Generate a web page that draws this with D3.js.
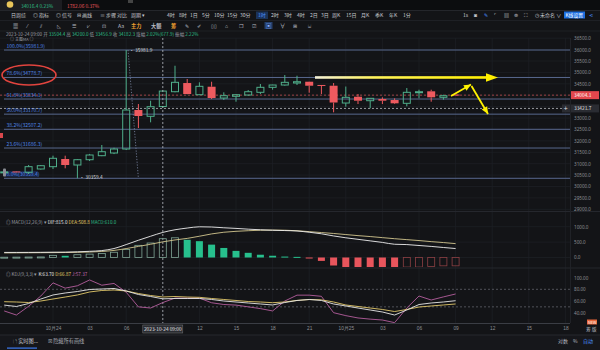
<!DOCTYPE html>
<html><head><meta charset="utf-8">
<script src="https://cdn.jsdelivr.net/npm/d3@7/dist/d3.min.js"></script>
<style>html,body{margin:0;padding:0;background:#131417;}svg{display:block;font-family:"Noto Sans CJK SC","Noto Sans",sans-serif;}</style>
</head><body><svg id="chart" width="600" height="350"></svg>
<script>
// ---------------- data ----------------
const hours = [-4,-3,-2,-1,0,1,2,3,4,5,6,7,8,9,10,11,12,13,14,15,16,17,18,19,20,21,22,23,24,25,26,27,28,29,30,31,32,33];
const open  = [30620,30660,30622,30767,30868,31205,30942,31174,31350,31468,31643,33352,33076,33504.4,34154,34535,34023,34373,33878,33953,34010,34128,34347,34448,34535,34592,34450,34417,33659,33935,33760,33834,33790,33646,34128,34172,33909,34030];
const high  = [30660,30670,30942,30940,31350,31350,31200,31425,31818,31700,35981.9,33615,33760,34200.0,35293,34711,34566,34592,34128,34053,34229,34492,34460,34886,34855,34600,34450,34535,34382,34053,33865,33909,33865,34316,34242,34242,34023,34040];
const low   = [30600,30630,30548,30740,30767,30797,30359.4,31117,31330,31420,31600,32563,32813,33456.9,34130,34040,34010,33834,33790,33716,33980,34053,34242,34420,34448,34110,34053,33251,33497,33615,33427,33615,33615,33514,33865,33716,33804,34000];
const close = [30640,30640,30868,30911,31236,30942,31174,31380,31525,31643,33352,33089,33497,34182.3,34566,34053,34391,33878,33979,34023,34154,34347,34448,34566,34592,34417,34430,33681,33909,33760,33865,33760,33646,34128,34154,33909,33979,34004.1];
const macdHist = [10,12,15,18,70,55,90,110,130,170,260,395,470,610,640,575,530,418,310,215,152,90,57,30,20,-10,-110,-260,-310,-364,-375,-395,-427,-310,-310,-290,-270,-270];
const dif = [165,165,166,168,172,175,185,200,225,291,420,560,690,815,900,956,997,990,965,945,920,900,885,875,860,820,770,700,640,590,540,490,430,420,390,360,325,291];
const dea = [150,152,154,156,158,162,168,178,195,230,290,360,430,508.8,570,620,690,766,820,850,870,885,890,885,870,840,810,780,745,710,680,645,610,580,550,515,485,450];
const kLine = [53,50.6,55.7,63.4,70.3,73.7,76.2,79.7,80.5,81.4,77.1,71.1,67.7,63.70,64.3,64.3,64.3,62.6,60,58.3,56.6,54.9,53.2,57.4,60.9,62.6,60.9,54.9,51.5,48,44.6,41.2,36,44.6,54,56.6,58.3,60.5];
const dLine = [58.8,58.3,57.4,60,63.4,66.8,70.3,75.4,78,78.8,77.1,72.8,69.4,66.87,67.7,66.8,66.3,64.3,62.6,60.9,59.1,58.3,57.1,58.3,61,62.5,62,58.3,53.2,50.6,48,45.5,42,45.5,49.7,51.5,53.2,54.9];
const jLine = [43,36,51,68.5,91,82,86,96,87,90,75,50,48,57.37,65,65,65,57,54,53,50,47,43,60,70,70,68,40,35,31,29,27.5,23,48,68.5,61.7,67,72];
const priceTicks = [36500,36000,35500,35000,34500,34000,33500,33000,32500,32000,31500,31000,30500,30000,29500,29000];
const macdTicks = [1000,500,0];
const kdjTicks = [100,80,60,40];
const kdjDashed = [80,50];
const xTickHours = [0,3,6,9,12,15,18,21,24,27,30,33,36,39,42];
const xTickLabels = ["10月24","03","06","09","12","15","18","21","10月25","03","06","09","12","15","18"];
const fibRatios = [1,0.786,0.618,0.5,0.382,0.236,0];
const fibHigh = 35981.9, fibLow = 30359.4;
const lastPrice = 34004.1, crossPrice = 33421.7, crossHour = 9;
const crossLabel = "2023-10-24 09:00";

// ---------------- setup ----------------
const svg = d3.select('#chart');
const PR = 570;
const UP = '#4fae8a', DOWN = '#ee5a5f';
const x = d3.scaleLinear().domain([0,42]).range([53,565.4]);
const yP = d3.scaleLinear().domain([29000,36500]).range([209.3,38.2]);
const yM = d3.scaleLinear().domain([0,1000]).range([257.5,226.7]);
const yK = d3.scaleLinear().domain([40,80]).range([312.7,289.3]);
const bars = hours.map((h,i)=>({h,o:open[i],hi:high[i],lo:low[i],c:close[i],m:macdHist[i],dif:dif[i],dea:dea[i],k:kLine[i],d:dLine[i],j:jLine[i],prev:i>0?macdHist[i-1]:0}));

svg.append('rect').attr('width',600).attr('height',350).attr('fill','#131417');
const defs = svg.append('defs');
defs.append('clipPath').attr('id','mainClip').append('rect').attr('x',0).attr('y',38).attr('width',PR).attr('height',172);
defs.append('clipPath').attr('id','macdClip').append('rect').attr('x',0).attr('y',212).attr('width',PR).attr('height',55);
defs.append('clipPath').attr('id','kdjClip').append('rect').attr('x',0).attr('y',269).attr('width',PR).attr('height',54);

// ---------------- header ----------------
svg.append('rect').attr('width',600).attr('height',10).attr('fill','#0c0d0f');
svg.append('rect').attr('x',0).attr('width',62).attr('height',10).attr('fill','#1c1d21');
svg.append('circle').attr('cx',10).attr('cy',4.5).attr('r',3.3).attr('fill','#e9c55a');
svg.append('text').attr('x',21).attr('y',8).attr('font-size',4.8).attr('fill','#2ebd85').text('34016.4  0.23%');
svg.append('text').attr('x',67).attr('y',8).attr('font-size',4.8).attr('fill','#e8555a').text('1782.06  0.37%');
svg.append('rect').attr('x',128).attr('y',0).attr('width',5).attr('height',3).attr('fill','#444');
svg.append('line').attr('x1',0).attr('x2',600).attr('y1',10.5).attr('y2',10.5).attr('stroke','#24262b');

const row2 = [[11,'日周综'],[33,'◎ 指标'],[56,'◎ 信号'],[77,'⊟ 画线'],[100,'≡ 步骤'],[117,'对比'],[131,'周期 ▾'],[167,'4时'],[179,'8时'],[190,'1日'],[202,'5分'],[214,'10分'],[227,'15分'],[240,'30分'],[258,'1时'],[271,'2时'],[284,'3时'],[297,'4时'],[310,'2日'],[321,'3日'],[332,'周K'],[346,'15日'],[361,'月K'],[375,'季K'],[389,'年K'],[403,'1分']];
row2.forEach(([px,t])=>{
  if(t==='1时'){svg.append('rect').attr('x',px-2).attr('y',11.5).attr('width',12).attr('height',7.5).attr('fill','#1b3358');}
  svg.append('text').attr('x',px).attr('y',17).attr('font-size',5).attr('fill',t==='1时'?'#4a90ff':'#c9cbd0').text(t);
});
const rightIcons=[[463,'1s'],[474,'◙'],[484,'✎'],[494,'⌜'],[504,'▤'],[514,'⊜'],[524,'⛶']];
rightIcons.forEach(([px,t],i)=>svg.append('text').attr('x',px).attr('y',17).attr('font-size',5).attr('fill',i===2?'#4a90ff':'#c9cbd0').text(t));
svg.append('text').attr('x',535).attr('y',17).attr('font-size',5).attr('fill','#c9cbd0').text('◷ 未命名 ∨');
svg.append('rect').attr('x',564).attr('y',11.5).attr('width',21).attr('height',7).attr('fill','#1d6fe0');
svg.append('text').attr('x',565.5).attr('y',17).attr('font-size',4.8).attr('fill','#fff').text('K线设置');
svg.append('text').attr('x',589).attr('y',17).attr('font-size',5).attr('fill','#4a90ff').text('⋖');
svg.append('line').attr('x1',0).attr('x2',600).attr('y1',20.5).attr('y2',20.5).attr('stroke','#1e2025');

const row3 = [[13,'▦'],[27,'⁄'],[40,'⫽'],[57,'◺'],[72,'☰'],[87,'⩗'],[102,'⊡'],[118,'Aa'],[131,'主力'],[151,'大额'],[171,'筹'],[185,'✎'],[197,'✐'],[211,'▯▯'],[225,'⌂'],[239,'❐'],[252,'☑'],[266,'▣'],[280,'∀'],[293,'⊞'],[308,'⌸']];
row3.forEach(([px,t])=>{
  const col = (t==='主力'||t==='筹')?'#f0a030':(t==='▣'?'#8fb4ff':'#b8bbc2');
  if(t==='▣') svg.append('rect').attr('x',px-1.5).attr('y',22).attr('width',8).attr('height',7).attr('fill','#24406e');
  svg.append('text').attr('x',px).attr('y',27.6).attr('font-size',5.2).attr('fill',col).attr('font-weight',(t==='主力'||t==='大额'||t==='筹')?'bold':'normal').text(t);
});
svg.append('line').attr('x1',0).attr('x2',600).attr('y1',31).attr('y2',31).attr('stroke','#1e2025');

const info = svg.append('text').attr('x',6).attr('y',36.3).attr('font-size',4.6);
[['2023-10-24 09:00 ','#9a9ca3'],['开 ','#9a9ca3'],['33504.4 ','#2ebd85'],['高 ','#9a9ca3'],['34200.0 ','#2ebd85'],['低 ','#9a9ca3'],['33456.9 ','#2ebd85'],['收 ','#9a9ca3'],['34182.3 ','#2ebd85'],['涨幅 ','#9a9ca3'],['2.02%(677.9) ','#2ebd85'],['振幅 ','#9a9ca3'],['2.22%','#2ebd85']]
  .forEach(([t,c])=>info.append('tspan').attr('fill',c).text(t));

// ---------------- grids ----------------
const grid = svg.append('g').attr('stroke','#1d1f25').attr('stroke-width',0.8);
grid.selectAll('.vg').data(xTickHours).join('line').attr('x1',d=>x(d)).attr('x2',d=>x(d)).attr('y1',38).attr('y2',323);
grid.selectAll('.hg').data(priceTicks).join('line').attr('x1',0).attr('x2',PR).attr('y1',d=>yP(d)).attr('y2',d=>yP(d));
grid.selectAll('.mg').data(macdTicks).join('line').attr('x1',0).attr('x2',PR).attr('y1',d=>yM(d)).attr('y2',d=>yM(d));
svg.append('line').attr('x1',0).attr('x2',600).attr('y1',211.5).attr('y2',211.5).attr('stroke','#25272d');
svg.append('line').attr('x1',0).attr('x2',600).attr('y1',268).attr('y2',268).attr('stroke','#25272d');
svg.append('line').attr('x1',0).attr('x2',PR).attr('y1',323.5).attr('y2',323.5).attr('stroke','#3a3d44');
svg.append('line').attr('x1',PR+0.5).attr('x2',PR+0.5).attr('y1',38).attr('y2',323).attr('stroke','#202227');

// ---------------- main pane ----------------
const main = svg.append('g').attr('clip-path','url(#mainClip)');
const fibs = fibRatios.map(r=>({r,v:fibLow+r*(fibHigh-fibLow)}));
main.selectAll('.fib').data(fibs).join('line').attr('x1',4).attr('x2',PR).attr('y1',d=>yP(d.v)).attr('y2',d=>yP(d.v)).attr('stroke','#58688e').attr('stroke-width',1);
main.append('rect').attr('x',5).attr('y',yP(fibLow)-7.4).attr('width',33).attr('height',6).attr('fill','#1a2747');
main.selectAll('.fibt').data(fibs).join('text').attr('x',6.5).attr('y',d=>yP(d.v)-2.3).attr('font-size',5).attr('fill','#4f86e8')
  .text(d=>(d.r*100).toFixed(1)+'%('+d.v.toFixed(1)+')');
main.append('line').attr('x1',x(6.15)).attr('y1',yP(fibHigh)).attr('x2',x(7)).attr('y2',yP(fibLow)).attr('stroke','#7d8aa8').attr('stroke-width',0.8).attr('stroke-dasharray','1.2,1.6');

// current price / crosshair lines
main.append('line').attr('x1',0).attr('x2',PR).attr('y1',yP(lastPrice)).attr('y2',yP(lastPrice)).attr('stroke','#c24c50').attr('stroke-width',0.8).attr('stroke-dasharray','2,2');
main.append('line').attr('x1',0).attr('x2',PR).attr('y1',yP(crossPrice)).attr('y2',yP(crossPrice)).attr('stroke','#b8bac0').attr('stroke-width',0.8).attr('stroke-dasharray','2,2');

const cw = 8;
const cg = main.selectAll('.candle').data(bars).join('g');
cg.each(function(d){
  const g = d3.select(this); const cx = x(d.h); const up = d.c>=d.o;
  const top = yP(Math.max(d.o,d.c)), bot = yP(Math.min(d.o,d.c));
  const col = up?UP:DOWN;
  g.append('line').attr('x1',cx).attr('x2',cx).attr('y1',yP(d.hi)).attr('y2',top).attr('stroke',col).attr('stroke-width',1);
  g.append('line').attr('x1',cx).attr('x2',cx).attr('y1',bot).attr('y2',yP(d.lo)).attr('stroke',col).attr('stroke-width',1);
  const hgt = Math.max(bot-top,1);
  if(up) g.append('rect').attr('x',cx-cw/2+0.5).attr('y',top).attr('width',cw-1).attr('height',hgt).attr('fill','none').attr('stroke',col).attr('stroke-width',1);
  else g.append('rect').attr('x',cx-cw/2).attr('y',top).attr('width',cw).attr('height',hgt).attr('fill',col);
});
// high / low marks
main.append('text').attr('x',x(6)+3).attr('y',yP(fibHigh)+1.6).attr('font-size',4.8).attr('fill','#d8d8d8').text('· '+fibHigh.toFixed(1));
main.append('text').attr('x',x(2)+2).attr('y',yP(fibLow)+1.2).attr('font-size',4.8).attr('fill','#d8d8d8').text('· '+fibLow.toFixed(1));

// annotations: yellow arrows
const grad = defs.append('linearGradient').attr('id','yg').attr('x1','0').attr('x2','1');
grad.append('stop').attr('offset','0').attr('stop-color','#f3f0d8');
grad.append('stop').attr('offset','0.35').attr('stop-color','#fff35a');
grad.append('stop').attr('offset','1').attr('stop-color','#ffef00');
const yArr = yP(fibLow+0.786*(fibHigh-fibLow));
svg.append('rect').attr('x',315).attr('y',yArr-1.3).attr('width',172).attr('height',2.6).attr('fill','url(#yg)');
svg.append('path').attr('d',`M486,${yArr-4.2} L498,${yArr} L486,${yArr+4.2} Z`).attr('fill','#ffef00');
function arrow(x1,y1,x2,y2){
  svg.append('line').attr('x1',x1).attr('y1',y1).attr('x2',x2).attr('y2',y2).attr('stroke','#fff200').attr('stroke-width',1.8);
  const a = Math.atan2(y2-y1,x2-x1), L=7, w=3.2;
  const bx = x2-L*Math.cos(a), by = y2-L*Math.sin(a);
  svg.append('path').attr('d',`M${x2},${y2} L${bx+w*Math.sin(a)},${by-w*Math.cos(a)} L${bx-w*Math.sin(a)},${by+w*Math.cos(a)} Z`).attr('fill','#fff200');
}
arrow(451,96,471,84.5);
arrow(471.5,86,488,114);
svg.append('ellipse').attr('cx',29).attr('cy',75).attr('rx',27).attr('ry',10).attr('fill','none').attr('stroke','#e2443e').attr('stroke-width',1.6);

// left edge handles
svg.append('rect').attr('x',0).attr('y',133).attr('width',3).attr('height',5).attr('fill','#d9484c');
svg.append('rect').attr('x',3).attr('y',168.5).attr('width',3).attr('height',8).attr('rx',1).attr('fill','#8a8d94');

// crosshair vertical
svg.append('line').attr('x1',x(crossHour)).attr('x2',x(crossHour)).attr('y1',38).attr('y2',323).attr('stroke','#b8bac0').attr('stroke-width',0.8).attr('stroke-dasharray','2,2');

// price axis (labels hidden under the price boxes are skipped)
const boxPrices = [lastPrice, crossPrice];
const visTicks = priceTicks.filter(t=>boxPrices.every(b=>Math.abs(yP(t)-yP(b))>6));
const pAxis = svg.append('g').attr('transform',`translate(${PR+3},0)`).call(d3.axisRight(yP).tickValues(visTicks).tickSize(0).tickPadding(1).tickFormat(d3.format('.1f')));
pAxis.select('.domain').remove();
pAxis.selectAll('text').attr('font-size',4.6).attr('fill','#8d9096').attr('font-family','"Noto Sans",sans-serif');
// price boxes
svg.append('rect').attr('x',PR+1).attr('y',yP(lastPrice)-4).attr('width',28).attr('height',8).attr('fill','#e2474d');
svg.append('text').attr('x',PR+4).attr('y',yP(lastPrice)+1.8).attr('font-size',4.8).attr('fill','#fff').text(lastPrice.toFixed(1));
svg.append('rect').attr('x',PR+1).attr('y',yP(crossPrice)-4).attr('width',28).attr('height',8).attr('fill','#2a2c32');
svg.append('text').attr('x',PR+4).attr('y',yP(crossPrice)+1.8).attr('font-size',4.8).attr('fill','#e0e0e0').text(crossPrice.toFixed(1));
svg.append('rect').attr('x',PR-8).attr('y',yP(crossPrice)-4).attr('width',8).attr('height',8).attr('fill','#2a2c32');
svg.append('text').attr('x',PR-6.3).attr('y',yP(crossPrice)+2.4).attr('font-size',7).attr('fill','#e0e0e0').text('+');
svg.append('text').attr('x',10).attr('y',41.2).attr('font-size',4).attr('fill','#9a9ca3').text('◎ 主图MA  ◎');

// ---------------- MACD pane ----------------
const mg = svg.append('g').attr('clip-path','url(#macdClip)');
mg.selectAll('.mb').data(bars).join('rect').each(function(d){
  const r = d3.select(this); const pos = d.m>=0; const rising = d.m>=d.prev;
  const y0 = yM(0), y1 = yM(d.m);
  const top = Math.min(y0,y1), h = Math.max(Math.abs(y1-y0),1);
  r.attr('x',x(d.h)-3.5).attr('width',7).attr('y',top).attr('height',h);
  if(pos){ if(rising) r.attr('fill','none').attr('stroke','#7fa596').attr('stroke-width',0.8); else r.attr('fill','#27c08d'); }
  else { if(rising) r.attr('fill','none').attr('stroke','#8d4044').attr('stroke-width',0.8); else r.attr('fill','#e8555c'); }
});
const lineM = k=>d3.line().x(d=>x(d.h)).y(d=>yM(d[k])).curve(d3.curveMonotoneX);
mg.append('path').datum(bars).attr('d',lineM('dea')).attr('fill','none').attr('stroke','#d2c68e').attr('stroke-width',0.9);
mg.append('path').datum(bars).attr('d',lineM('dif')).attr('fill','none').attr('stroke','#eeeeee').attr('stroke-width',0.9);
const ml = svg.append('text').attr('x',6).attr('y',223.5).attr('font-size',4.6);
[['◎ MACD(12,26,9)  ▾  ','#9a9ca3'],['DIF:815.0 ','#e8e8e8'],['DEA:508.8 ','#e6d36a'],['MACD:610.0','#2ebd85']].forEach(([t,c])=>ml.append('tspan').attr('fill',c).text(t));
const mAxis = svg.append('g').attr('transform',`translate(${PR+3},0)`).call(d3.axisRight(yM).tickValues(macdTicks).tickSize(0).tickPadding(1).tickFormat(d3.format('.1f')));
mAxis.select('.domain').remove();
mAxis.selectAll('text').attr('font-size',4.6).attr('fill','#8d9096').attr('font-family','"Noto Sans",sans-serif');

// ---------------- KDJ pane ----------------
const kg = svg.append('g').attr('clip-path','url(#kdjClip)');
kg.selectAll('.kd').data(kdjDashed).join('line').attr('x1',0).attr('x2',PR).attr('y1',d=>yK(d)).attr('y2',d=>yK(d)).attr('stroke','#6a6d75').attr('stroke-width',0.7).attr('stroke-dasharray','2,2');
const lineK = k=>d3.line().x(d=>x(d.h)).y(d=>yK(d[k]));
kg.append('path').datum(bars).attr('d',lineK('j')).attr('fill','none').attr('stroke','#b45e9d').attr('stroke-width',0.9);
kg.append('path').datum(bars).attr('d',lineK('d')).attr('fill','none').attr('stroke','#e2c86a').attr('stroke-width',0.9);
kg.append('path').datum(bars).attr('d',lineK('k')).attr('fill','none').attr('stroke','#e8e8e8').attr('stroke-width',0.9);
const kl = svg.append('text').attr('x',6).attr('y',275.5).attr('font-size',4.6);
[['◎ KDJ(9,3,3)  ▾  ','#9a9ca3'],['K:63.70 ','#e8e8e8'],['D:66.87 ','#e6d36a'],['J:57.37','#c46bb0']].forEach(([t,c])=>kl.append('tspan').attr('fill',c).text(t));
const kAxis = svg.append('g').attr('transform',`translate(${PR+3},0)`).call(d3.axisRight(yK).tickValues(kdjTicks).tickSize(0).tickPadding(1).tickFormat(d3.format('.2f')));
kAxis.select('.domain').remove();
kAxis.selectAll('text').attr('font-size',4.6).attr('fill','#8d9096').attr('font-family','"Noto Sans",sans-serif');

// ---------------- x axis ----------------
const visX = xTickHours.map((h,i)=>({h,l:xTickLabels[i]})).filter(d=>d.h!==crossHour);
const xa = svg.append('g').attr('transform','translate(0,325)').call(d3.axisBottom(x).tickValues(visX.map(d=>d.h)).tickSize(0).tickPadding(2).tickFormat((d,i)=>visX[i].l));
xa.select('.domain').remove();
xa.selectAll('text').attr('font-size',4.8).attr('fill','#8d9096');
svg.append('rect').attr('x',x(crossHour)-20).attr('y',325).attr('width',40).attr('height',8).attr('fill','#2a2c32').attr('stroke','#777').attr('stroke-width',0.5);
svg.append('text').attr('x',x(crossHour)).attr('y',331).attr('text-anchor','middle').attr('font-size',4.8).attr('fill','#e6e6e6').text(crossLabel);
svg.append('rect').attr('x',587).attr('y',319.5).attr('width',10).attr('height',5).attr('fill','#e8663a');
svg.append('text').attr('x',588).attr('y',323.7).attr('font-size',3.8).attr('fill','#fff').text('NEW');
svg.append('text').attr('x',586).attr('y',331).attr('font-size',4.8).attr('fill','#b8bbc2').text('筹 版');

// ---------------- bottom bar ----------------
svg.append('rect').attr('x',0).attr('y',335).attr('width',600).attr('height',15).attr('fill','#16171b');
svg.append('line').attr('x1',0).attr('x2',600).attr('y1',335).attr('y2',335).attr('stroke','#26282e');
svg.append('text').attr('x',13).attr('y',343).attr('font-size',5.2).attr('fill','#c9cbd0').text('🗎 实时图...');
svg.append('rect').attr('x',7).attr('y',347.5).attr('width',30).attr('height',1.2).attr('fill','#3d7bf0');
svg.append('text').attr('x',48).attr('y',343).attr('font-size',5.2).attr('fill','#a9abb2').text('☒ 隐藏所有画线');
svg.append('text').attr('x',558).attr('y',343).attr('font-size',5).attr('fill','#b8bbc2').text('对数');
svg.append('text').attr('x',573).attr('y',343).attr('font-size',5).attr('fill','#b8bbc2').text('%');
svg.append('text').attr('x',583).attr('y',343).attr('font-size',5).attr('fill','#4a90ff').text('自动');
</script></body></html>
